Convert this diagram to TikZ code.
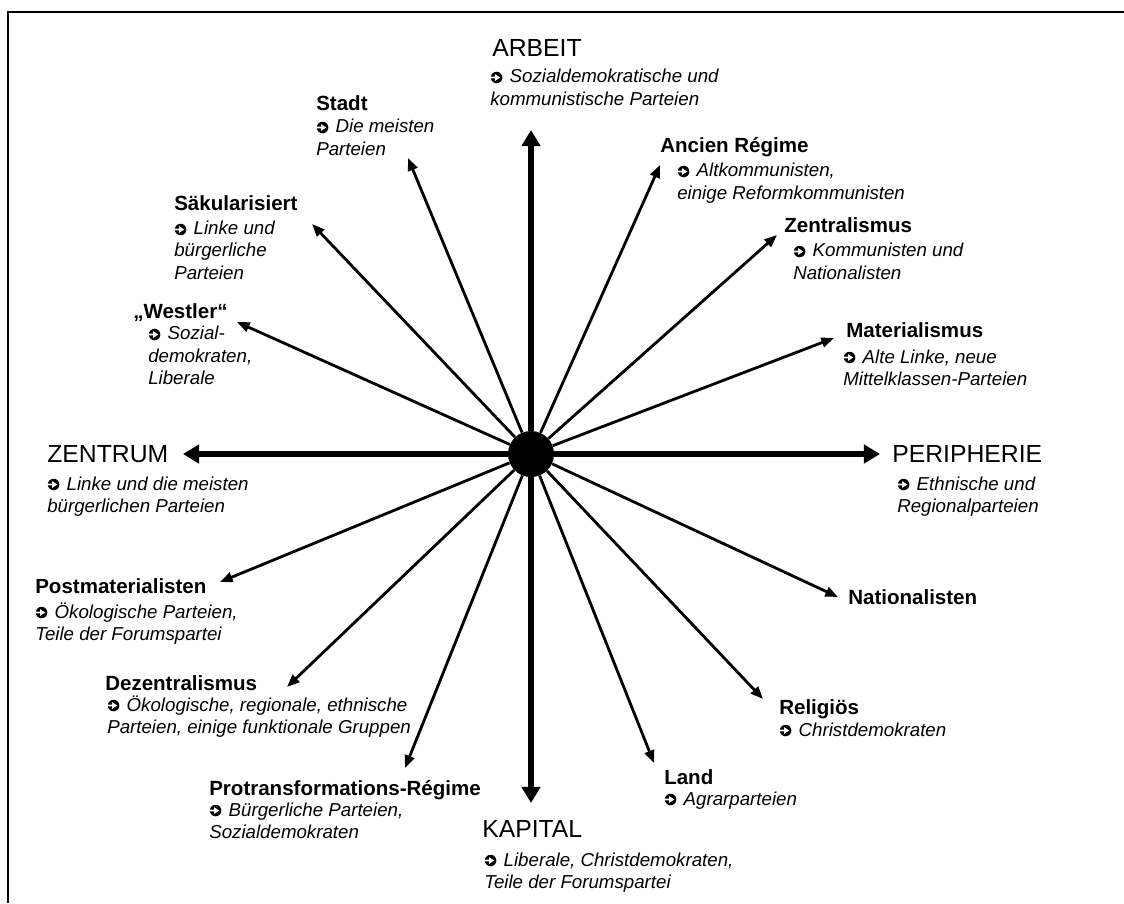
\documentclass[tikz,border=0pt]{standalone}
\usepackage{fontspec}
\setmainfont{Liberation Sans}
\usetikzlibrary{arrows.meta}

\newcommand{\polesz}{\fontsize{17.6}{21}\selectfont}
\newcommand{\catsz}{\fontsize{14.6}{17}\selectfont\bfseries}
\newcommand{\partysz}{\fontsize{13.3}{15.65}\selectfont\itshape}
% black disc with a white arrow, as the bullet before each party list
\newcommand{\pfeil}{\tikz[baseline=0pt, x=1pt, y=1pt]{%
		\fill [black] (4.3,3.9) circle (4.1);
		\fill [white] (-0.2,3.3) -- (3.2,3.3) -- (3.2,1.5) -- (6.9,3.9) -- (3.2,6.3) -- (3.2,4.5) -- (-0.2,4.5) -- cycle;}\hspace{1.5pt}}

\begin{document}
\begin{tikzpicture}[x=0.025cm, y=-0.025cm,
		axis/.style={line width=3.9pt, -{Triangle[length=11.5pt, width=13pt]}},
		spoke/.style={line width=2pt, -{Triangle[length=9pt, width=7pt]}},
		pole/.style={anchor=base west, inner sep=0pt, font=\polesz},
		cat/.style={anchor=base west, inner sep=0pt, font=\catsz},
		party/.style={anchor=base west, inner sep=0pt, align=left, font=\partysz}]
		\useasboundingbox (0,0) rectangle (1124,903);
		\draw [line width=2.1pt] (8,903) -- (8,12) -- (1124,12);

		\node (hub) [circle, fill=black, inner sep=0pt, minimum size=1.15cm] at (531,454) {};

		% the four poles (party texts sit on the baseline of their last line)
		\coordinate (arbeitTip) at (531,130);
		\coordinate (kapitalTip) at (531,803);
		\coordinate (zentrumTip) at (183,454);
		\coordinate (peripherieTip) at (880,454);
		\draw [axis] (hub) -- (arbeitTip);
		\draw [axis] (hub) -- (kapitalTip);
		\draw [axis] (hub) -- (zentrumTip);
		\draw [axis] (hub) -- (peripherieTip);

		\node (arbeit) [pole] at (492,56) {ARBEIT};
		\node (arbeitTxt) [party] at (490,105) {\pfeil{} Sozialdemokratische und\\kommunistische Parteien};
		\node (zentrum) [pole] at (47,462) {ZENTRUM};
		\node (zentrumTxt) [party] at (47,512) {\pfeil{} Linke und die meisten\\bürgerlichen Parteien};
		\node (peripherie) [pole] at (892,462) {PERIPHERIE};
		\node (peripherieTxt) [party] at (897,512) {\pfeil{} Ethnische und\\Regionalparteien};
		\node (kapital) [pole] at (482,837) {KAPITAL};
		\node (kapitalTxt) [party] at (484,888) {\pfeil{} Liberale, Christdemokraten,\\Teile der Forumspartei};

		% upper left
		\coordinate (stadtTip) at (408,158);
		\coordinate (saekTip) at (312,224);
		\coordinate (westlerTip) at (237,322);
		\draw [spoke] (hub) -- (stadtTip);
		\draw [spoke] (hub) -- (saekTip);
		\draw [spoke] (hub) -- (westlerTip);
		\node (stadt) [cat] at (316,110) {Stadt};
		\node (stadtTxt) [party] at (316,155) {\pfeil{} Die meisten\\Parteien};
		\node (saek) [cat] at (174,210) {Säkularisiert};
		\node (saekTxt) [party] at (174,279) {\pfeil{} Linke und\\bürgerliche\\Parteien};
		\node (westler) [cat] at (133,318) {„Westler“};
		\node (westlerTxt) [party] at (148,384) {\pfeil{} Sozial-\\demokraten,\\Liberale};

		% lower left
		\coordinate (postmatTip) at (220,582);
		\coordinate (dezentTip) at (287,687);
		\coordinate (protransTip) at (405,768);
		\draw [spoke] (hub) -- (postmatTip);
		\draw [spoke] (hub) -- (dezentTip);
		\draw [spoke] (hub) -- (protransTip);
		\node (postmat) [cat] at (35,593) {Postmaterialisten};
		\node (postmatTxt) [party] at (35,640) {\pfeil{} Ökologische Parteien,\\Teile der Forumspartei};
		\node (dezent) [cat] at (105,690) {Dezentralismus};
		\node (dezentTxt) [party] at (107,733) {\pfeil{} Ökologische, regionale, ethnische\\Parteien, einige funktionale Gruppen};
		\node (protrans) [cat] at (209,795) {Protransformations-Régime};
		\node (protransTxt) [party] at (209,838) {\pfeil{} Bürgerliche Parteien,\\Sozialdemokraten};

		% lower right
		\coordinate (landTip) at (654,763);
		\coordinate (religTip) at (763,699);
		\coordinate (natTip) at (838,597);
		\draw [spoke] (hub) -- (landTip);
		\draw [spoke] (hub) -- (religTip);
		\draw [spoke] (hub) -- (natTip);
		\node (land) [cat] at (664,784) {Land};
		\node (landTxt) [party] at (664,805) {\pfeil{} Agrarparteien};
		\node (relig) [cat] at (779,714) {Religiös};
		\node (religTxt) [party] at (779,736) {\pfeil{} Christdemokraten};
		\node (nat) [cat] at (848,604) {Nationalisten};

		% upper right
		\coordinate (matTip) at (834,338);
		\coordinate (zentralTip) at (777,235);
		\coordinate (ancienTip) at (660,165);
		\draw [spoke] (hub) -- (matTip);
		\draw [spoke] (hub) -- (zentralTip);
		\draw [spoke] (hub) -- (ancienTip);
		\node (mat) [cat] at (846,337) {Materialismus};
		\node (matTxt) [party] at (843,385) {\pfeil{} Alte Linke, neue\\Mittelklassen-Parteien};
		\node (zentral) [cat] at (784,232) {Zentralismus};
		\node (zentralTxt) [party] at (793,279) {\pfeil{} Kommunisten und\\Nationalisten};
		\node (ancien) [cat] at (660,152) {Ancien Régime};
		\node (ancienTxt) [party] at (677,199) {\pfeil{} Altkommunisten,\\einige Reformkommunisten};
	\end{tikzpicture}
\end{document}
